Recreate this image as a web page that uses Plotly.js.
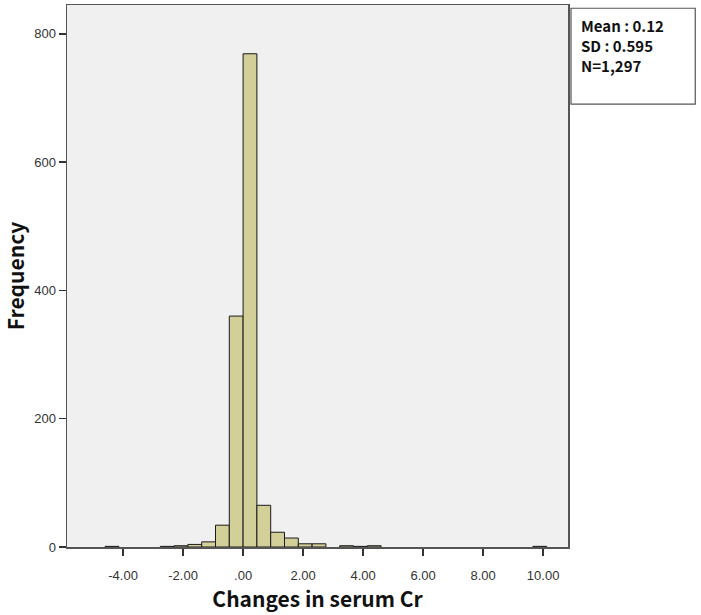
<!DOCTYPE html>
<html>
<head>
<meta charset="utf-8">
<script src="https://cdn.plot.ly/plotly-3.0.1.min.js"></script>
<style>html,body{margin:0;padding:0;background:#fff;}#chart{width:701px;height:615px;}</style>
</head>
<body>
<div id="chart"></div>
<script>
// Histogram bins (lower edges) and counts
const binWidth = 0.46;
const binStarts = [-4.60, -2.76, -2.30, -1.84, -1.38, -0.92, -0.46, 0.00, 0.46, 0.92, 1.38, 1.84, 2.30, 3.22, 3.68, 4.14, 9.66];
const counts    = [1, 1, 2, 4, 8, 34, 360, 769, 65, 23, 14, 5, 5, 2, 1, 2, 1];
const xTickVals = [-4, -2, 0, 2, 4, 6, 8, 10];
const xTickText = ["-4.00", "-2.00", ".00", "2.00", "4.00", "6.00", "8.00", "10.00"];
const yTickVals = [0, 200, 400, 600, 800];
const statsLines = ["Mean : 0.12", "SD : 0.595", "N=1,297"];

const centers = binStarts.map(s => s + binWidth / 2);

const trace = {
  type: 'bar',
  x: centers,
  y: counts,
  width: binStarts.map(() => binWidth),
  marker: { color: '#d3cf98', line: { color: '#1a1a1a', width: 1 } },
  hoverinfo: 'x+y'
};

const statsAnnotations = statsLines.map((s, i) => ({
  xref: 'paper', yref: 'paper', x: 1.022, y: 0.963 - i * 0.037,
  xanchor: 'left', yanchor: 'middle', align: 'left', showarrow: false,
  text: '<b>' + s + '</b>',
  font: { family: 'Noto Sans CJK KR, sans-serif', size: 15, color: '#111' }
}));

const layout = {
  width: 701, height: 615,
  margin: { l: 67, r: 133, t: 5, b: 68 },
  paper_bgcolor: '#ffffff',
  plot_bgcolor: '#f0f0f0',
  showlegend: false,
  bargap: 0,
  xaxis: {
    range: [-5.87, 10.83],
    tickvals: xTickVals, ticktext: xTickText,
    ticks: 'outside', ticklen: 7, tickwidth: 1.5, tickcolor: '#333',
    ticklabelstandoff: 9,
    showgrid: false, zeroline: false,
    showline: true, mirror: true, linecolor: '#555', linewidth: 1.5,
    tickfont: { family: 'Liberation Sans, Arial, sans-serif', size: 13, color: '#333' },
    title: { text: 'Changes in serum Cr', standoff: 4,
      font: { family: 'Noto Sans CJK KR, sans-serif', size: 21, color: '#111', weight: 'bold' } }
  },
  yaxis: {
    range: [0, 845],
    tickvals: yTickVals,
    ticks: 'outside', ticklen: 7, tickwidth: 1.5, tickcolor: '#333',
    showgrid: false, zeroline: false,
    showline: true, mirror: true, linecolor: '#555', linewidth: 1.5,
    tickfont: { family: 'Liberation Sans, Arial, sans-serif', size: 13, color: '#333' },
    title: { text: 'Frequency', standoff: 16,
      font: { family: 'Noto Sans CJK KR, sans-serif', size: 21, color: '#111', weight: 'bold' } }
  },
  shapes: [{
    type: 'rect', xref: 'paper', yref: 'paper',
    x0: 1.006, x1: 1.254, y0: 0.817, y1: 0.994,
    line: { color: '#555', width: 1.2 }, fillcolor: '#ffffff'
  }],
  annotations: statsAnnotations
};

Plotly.newPlot('chart', [trace], layout, { displayModeBar: false, staticPlot: true });
</script>
</body>
</html>
